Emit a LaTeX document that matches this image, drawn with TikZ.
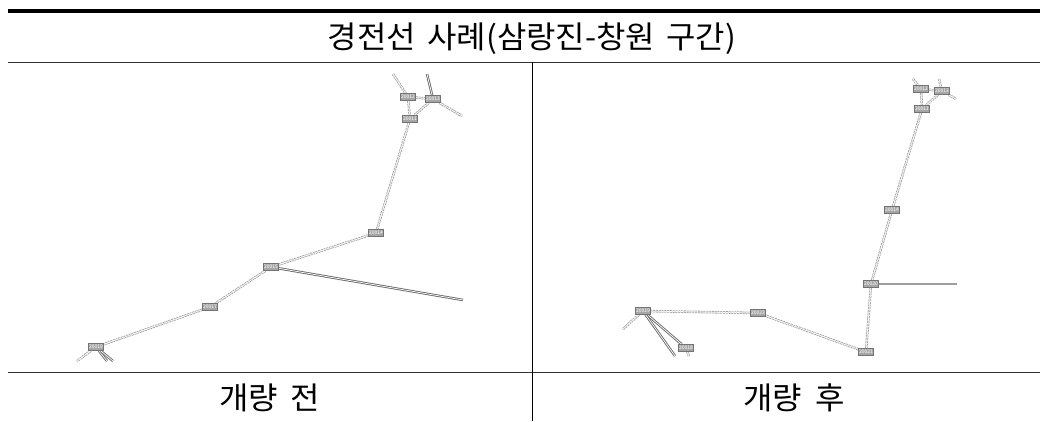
\documentclass[tikz,border=0pt]{standalone}
\usepackage{fontspec}
\usetikzlibrary{backgrounds}
\setmainfont{Noto Sans CJK KR}
\begin{document}
\begin{tikzpicture}[x=1pt,y=-1pt,
  tag/.style={draw=black!55,fill=black!35,line width=0.5pt,inner sep=0pt,minimum width=15pt,minimum height=7pt,text=white,font=\fontsize{5}{5}\selectfont},
  lbl/.style={font=\fontsize{31}{34}\selectfont,inner sep=0pt,text=black,xscale=1.03},
  cable/.style={draw=black!38,line width=0.8pt,double=white,double distance=0.9pt,dash pattern=on 2pt off 0.8pt},
  solid2/.style={draw=black!58,line width=0.9pt,double=white,double distance=0.7pt},
  heavy/.style={draw=black!38,line width=2.2pt},
  rule/.style={draw=black!80,line width=1pt}]
\useasboundingbox (0,0) rectangle (1040,421);
% table
\coordinate (tl) at (8,11);
\coordinate (tr) at (1040,11);
\coordinate (ml) at (8,62);
\coordinate (mr) at (1040,62);
\coordinate (bl) at (8,372.5);
\coordinate (br) at (1040,372.5);
\coordinate (vt) at (532.5,62);
\coordinate (vb) at (532.5,421);
\draw[black,line width=3.2pt] (tl) -- (tr);
\draw[rule] (ml) -- (mr);
\draw[rule] (bl) -- (br);
\draw[black,line width=0.8pt] (vt) -- (vb);
\node[lbl] (title) at (532,39) {경전선\hspace{0.36em}사례(삼랑진-창원\hspace{0.36em}구간)};
\node[lbl] (before) at (269.5,398) {개량\hspace{0.4em}전};
\node[lbl] (after) at (794,398) {개량\hspace{0.4em}후};
% left map free ends
\coordinate (la) at (393,74);
\coordinate (lb) at (427,74);
\coordinate (lc) at (462,116);
\coordinate (ld) at (463,300);
\coordinate (le) at (77,361);
\coordinate (lf) at (107,361);
\coordinate (lg) at (113,361);
% right map free ends
\coordinate (ra) at (913,79);
\coordinate (rb) at (939,79);
\coordinate (rc) at (956,99);
\coordinate (rd) at (957,284);
\coordinate (re) at (623,329);
\coordinate (rf) at (675,356);
\coordinate (rg) at (689,356);
% left map nodes
\path
 (408,97) node[tag] (L1) {20012}
 (433,99) node[tag] (L2) {20013}
 (410,119) node[tag] (L3) {20011}
 (376,233) node[tag] (L4) {20014}
 (271,267) node[tag] (L5) {20015}
 (210,307) node[tag] (L6) {20017}
 (96,347) node[tag] (L7) {20019};
% right map nodes
\path
 (921,89) node[tag] (R1) {20012}
 (942,91) node[tag] (R2) {20013}
 (922,109) node[tag] (R3) {20011}
 (892,210) node[tag] (R4) {20014}
 (871,284) node[tag] (R5) {20020}
 (866,352) node[tag] (R6) {20021}
 (758,313) node[tag] (R7) {20023}
 (643,311) node[tag] (R8) {20019}
 (686,348) node[tag] (R9) {20018};
\begin{pgfonlayer}{background}
\draw[cable] (la) -- (L1);
\draw[solid2] (lb) -- (L2);
\draw[cable] (L2) -- (lc);
\draw[cable] (L1) -- (L2);
\draw[cable] (L1) -- (L3);
\draw[cable] (L2) -- (L3);
\draw[cable] (L3) -- (L4);
\draw[cable] (L4) -- (L5);
\draw[cable] (L5) -- (L6);
\draw[cable] (L6) -- (L7);
\draw[solid2] (L5) -- (ld);
\draw[cable] (L7) -- (le);
\draw[solid2] (L7) -- (lf);
\draw[solid2] (L7) -- (lg);
\draw[cable] (ra) -- (R1);
\draw[cable] (rb) -- (R2);
\draw[cable] (R2) -- (rc);
\draw[cable] (R1) -- (R2);
\draw[cable] (R1) -- (R3);
\draw[cable] (R2) -- (R3);
\draw[cable] (R3) -- (R4);
\draw[cable] (R4) -- (R5);
\draw[cable] (R5) -- (R6);
\draw[heavy] (R5) -- (rd);
\draw[cable] (R6) -- (R7);
\draw[cable] (R7) -- (R8);
\draw[cable] (R8) -- (re);
\draw[solid2] (R8) -- (R9);
\draw[solid2] (R8) -- (rf);
\draw[cable] (R9) -- (rg);
\end{pgfonlayer}
\end{tikzpicture}
\end{document}
